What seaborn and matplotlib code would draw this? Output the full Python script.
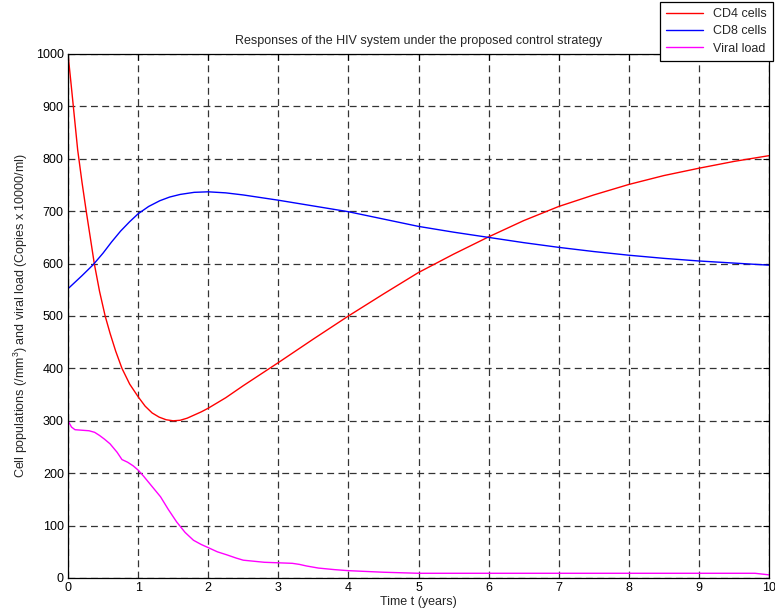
import matplotlib
matplotlib.use("Agg")
import matplotlib.pyplot as plt
import seaborn as sns
import pandas as pd
from matplotlib.lines import Line2D

# Data
cd4_t = [0, 0.04, 0.076, 0.138, 0.2, 0.26, 0.32, 0.375, 0.45, 0.53, 0.6, 0.68, 0.77, 0.88, 1.0, 1.1, 1.2, 1.3, 1.4, 1.5, 1.6, 1.7, 1.8, 1.9, 2.0, 2.25, 2.5, 2.75, 3.0, 3.5, 4.0, 4.5, 5.0, 5.5, 6.0, 6.5, 7.0, 7.5, 8.0, 8.5, 9.0, 9.5, 10.0]
cd4_v = [1000, 948, 900, 817, 755, 700, 648, 600, 547, 500, 467, 433, 400, 370, 346, 328, 315, 307, 302, 300, 301, 305, 311, 317, 324, 344, 367, 389, 411, 456, 500, 542, 583, 618, 651, 682, 709, 731, 751, 768, 782, 795, 806]

cd8_t = [0, 0.2, 0.36, 0.5, 0.62, 0.75, 0.88, 1.0, 1.15, 1.31, 1.45, 1.6, 1.8, 2.0, 2.25, 2.5, 3.0, 3.5, 4.0, 4.5, 5.0, 5.5, 6.0, 6.5, 7.0, 7.5, 8.0, 8.5, 9.0, 9.5, 10.0]
cd8_v = [552, 577, 598, 620, 641, 662, 680, 695, 709, 720, 727, 732, 736, 737, 735, 731, 721, 710, 699, 685, 671, 660, 650, 640, 631, 623, 616, 610, 605, 601, 597]

vir_t = [0, 0.05, 0.1, 0.2, 0.3, 0.38, 0.45, 0.52, 0.6, 0.7, 0.77, 0.85, 0.93, 1.0, 1.08, 1.16, 1.24, 1.32, 1.43, 1.55, 1.67, 1.79, 1.9, 2.0, 2.13, 2.27, 2.4, 2.5, 2.65, 2.8, 3.0, 3.2, 3.3, 3.4, 3.57, 3.8, 4.0, 4.5, 5.0, 6.0, 7.0, 8.0, 9.0, 9.8, 10.0]
vir_v = [300, 288, 283, 282, 281, 278, 272, 265, 256, 240, 226, 221, 214, 206, 194, 181, 168, 155, 131, 107, 87, 72, 64, 58, 50, 44, 38, 34, 32, 30, 29, 28, 26, 23, 19, 16, 14, 11, 9, 9, 9, 9, 9, 9, 6]

series_names = ["CD4 cells", "CD8 cells", "Viral load"]
series_colors = ["#ff0000", "#0000ff", "#ff00ff"]

x_ticks = list(range(0, 11))
y_ticks = list(range(0, 1001, 100))

title = "Responses of the HIV system under the proposed control strategy"
xlabel = "Time t (years)"
ylabel = "Cell populations (/mm$^3$) and viral load (Copies x 10000/ml)"

df = pd.concat([
    pd.DataFrame({"t": cd4_t, "v": cd4_v, "s": series_names[0]}),
    pd.DataFrame({"t": cd8_t, "v": cd8_v, "s": series_names[1]}),
    pd.DataFrame({"t": vir_t, "v": vir_v, "s": series_names[2]}),
])

sns.set_style("white")
plt.rcParams["font.family"] = ["Liberation Sans", "DejaVu Sans"]
plt.rcParams["mathtext.fontset"] = "custom"
plt.rcParams["mathtext.rm"] = "Liberation Sans"

fig = plt.figure(figsize=(7.75, 6.16), dpi=100)
ax = fig.add_axes([68 / 775, 38 / 616, (769 - 68) / 775, (578 - 54) / 616])

sns.lineplot(data=df, x="t", y="v", hue="s", palette=series_colors,
             hue_order=series_names, linewidth=1.0, ax=ax, legend=False,
             sort=False, estimator=None)

ax.set_xlim(0, 10)
ax.set_ylim(0, 1000)
ax.set_xticks(x_ticks)
ax.set_yticks(y_ticks)
ax.tick_params(direction="in", length=4, width=0.8, labelsize=9, top=True, right=True,
               colors="black", pad=3)
ax.grid(True, color="0.2", linestyle=(0, (5.5, 3.5)), linewidth=0.9)
for sp in ax.spines.values():
    sp.set_color("black")
    sp.set_linewidth(0.9)

ax.set_title(title, fontsize=9, pad=7)
ax.set_xlabel(xlabel, fontsize=9, labelpad=1)
ax.set_ylabel(ylabel, fontsize=9, labelpad=4)

handles = [Line2D([0], [0], color=c, linewidth=1.0) for c in series_colors]
leg = fig.legend(handles, series_names, loc="upper right", bbox_to_anchor=(0.997, 0.997),
                 fontsize=9, frameon=True, fancybox=False, edgecolor="black",
                 handlelength=2.9, handletextpad=0.8, borderpad=0.5, labelspacing=0.42,
                 borderaxespad=0)
leg.get_frame().set_linewidth(0.9)
leg.get_frame().set_alpha(1)

fig.savefig("out.png", dpi=100)
